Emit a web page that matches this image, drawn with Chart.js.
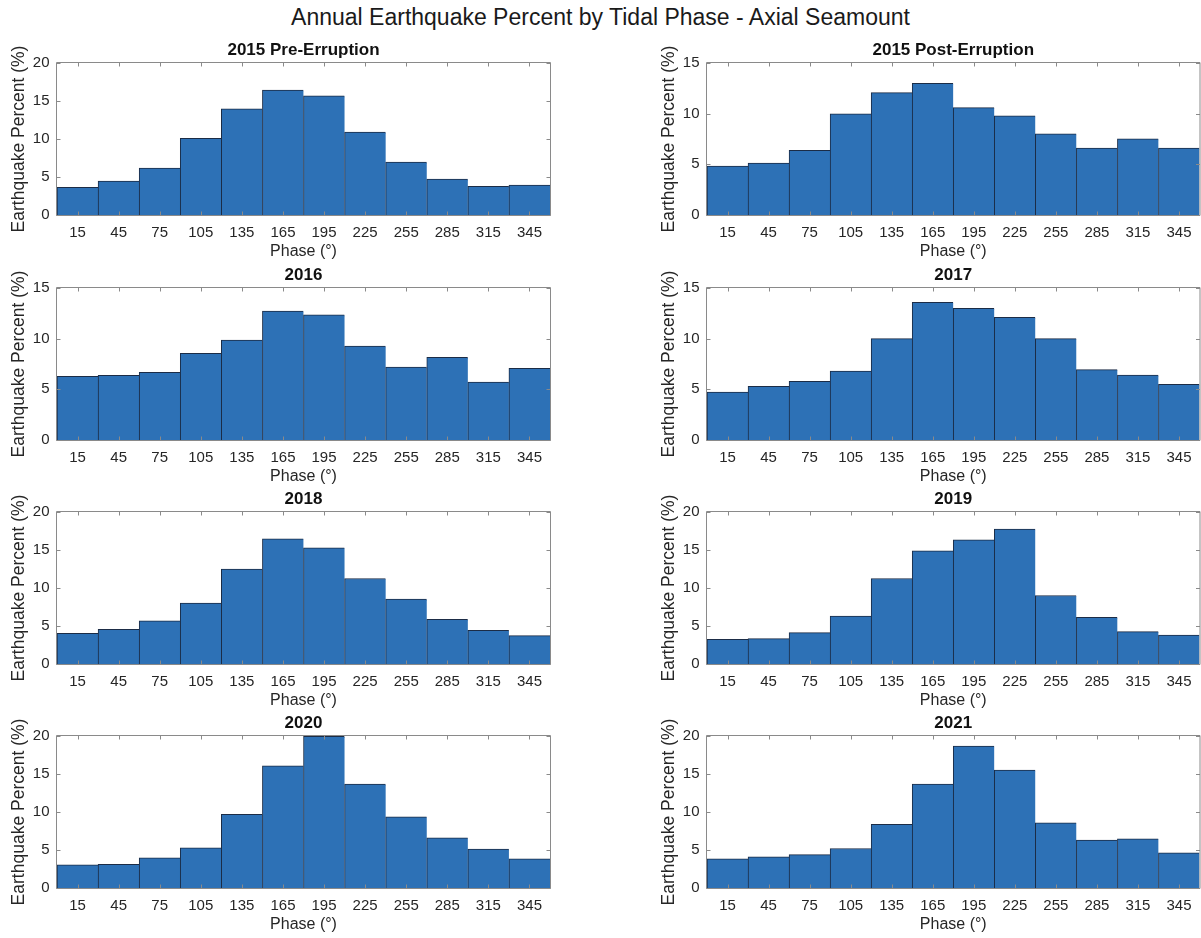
<!DOCTYPE html>
<html>
<head>
<meta charset="utf-8">
<script src="https://cdn.jsdelivr.net/npm/chart.js@4.4.0/dist/chart.umd.min.js"></script>
<style>
  html, body { margin: 0; padding: 0; background: #fff; }
  body { width: 1201px; height: 938px; position: relative; overflow: hidden;
         font-family: 'Liberation Sans', Arial, Helvetica, sans-serif; }
  #suptitle { position: absolute; left: 0; top: 4px; width: 1201px; text-align: center;
              font-size: 23px; line-height: 26px; color: #1a1a1a; }
  canvas { position: absolute; }
</style>
</head>
<body>
<div id="suptitle">Annual Earthquake Percent by Tidal Phase - Axial Seamount</div>
<script>
// Phase bin centres (degrees)
const phaseBins = ['15', '45', '75', '105', '135', '165', '195', '225', '255', '285', '315', '345'];

// Percent of earthquakes falling in each tidal-phase bin
const pct2015Pre  = [3.63, 4.46, 6.17, 10.1, 13.96, 16.45, 15.67, 10.9, 6.96, 4.73, 3.76, 3.94];
const pct2015Post = [4.82, 5.12, 6.37, 9.98, 12.08, 13.0, 10.6, 9.78, 8.01, 6.6, 7.52, 6.6];
const pct2016     = [6.28, 6.38, 6.68, 8.55, 9.87, 12.73, 12.34, 9.28, 7.2, 8.16, 5.72, 7.07];
const pct2017     = [4.74, 5.3, 5.79, 6.81, 10.0, 13.59, 12.99, 12.1, 10.0, 6.94, 6.41, 5.49];
const pct2018     = [4.04, 4.57, 5.67, 8.0, 12.48, 16.48, 15.3, 11.25, 8.53, 5.89, 4.44, 3.74];
const pct2019     = [3.25, 3.34, 4.13, 6.29, 11.25, 14.9, 16.35, 17.76, 9.01, 6.15, 4.26, 3.82];
const pct2020     = [3.04, 3.13, 3.96, 5.29, 9.69, 16.08, 19.95, 13.66, 9.38, 6.61, 5.11, 3.83];
const pct2021     = [3.83, 4.1, 4.4, 5.2, 8.37, 13.66, 18.68, 15.5, 8.59, 6.3, 6.48, 4.63];

// Panel titles and y-axis upper limits
const panelTitles = ['2015 Pre-Erruption', '2015 Post-Erruption', '2016', '2017', '2018', '2019', '2020', '2021'];
const panelSeries = [pct2015Pre, pct2015Post, pct2016, pct2017, pct2018, pct2019, pct2020, pct2021];
const panelYMax   = [20, 15, 15, 15, 20, 20, 20, 20];
const yTickStep   = 5;

const FONT = "'Liberation Sans', Arial, Helvetica, sans-serif";
const BAR_FILL = '#2d71b6';
const BAR_EDGE = '#1b2c46';
const AXIS_COLOR = '#8a8a8a';
const TEXT_COLOR = '#262626';

// Grid placement of the subplot axes (plot-area edges in page pixels)
const colLeft  = [0, 650];      // canvas left edge per column
const colWidth = [560, 551];
const colPadR  = [10, 1.5];
const rowTop   = [63, 288, 512, 736];  // plot-area top per row
const PLOT_H = 152;
const TITLE_H = 38;
const XAXIS_H = 48;
const YAXIS_W = 57;

// Box outline plus inward tick marks on all four sides, drawn over the bars
const axesBox = {
  id: 'axesBox',
  afterDatasetsDraw(chart) {
    const { ctx, chartArea: a, scales: { x, y } } = chart;
    const L = a.left - 0.5, R = a.right + 0.5, T = a.top - 0.5, B = a.bottom + 0.5;
    const tl = 4;
    ctx.save();
    ctx.strokeStyle = AXIS_COLOR;
    ctx.lineWidth = 1;
    ctx.beginPath();
    ctx.rect(L, T, R - L, B - T);
    x.ticks.forEach((t, i) => {
      const px = Math.round(x.getPixelForTick(i)) + 0.5;
      ctx.moveTo(px, B); ctx.lineTo(px, B - tl);
      ctx.moveTo(px, T); ctx.lineTo(px, T + tl);
    });
    y.ticks.forEach(t => {
      const py = Math.round(y.getPixelForValue(t.value)) + 0.5;
      ctx.moveTo(L, py); ctx.lineTo(L + tl, py);
      ctx.moveTo(R, py); ctx.lineTo(R - tl, py);
    });
    ctx.stroke();
    ctx.restore();
  }
};

panelSeries.forEach((series, idx) => {
  const col = idx % 2, row = Math.floor(idx / 2);
  const canvas = document.createElement('canvas');
  const h = TITLE_H + PLOT_H + XAXIS_H;
  canvas.width = colWidth[col];
  canvas.height = h;
  canvas.style.left = colLeft[col] + 'px';
  canvas.style.top = (rowTop[row] - TITLE_H) + 'px';
  canvas.style.width = colWidth[col] + 'px';
  canvas.style.height = h + 'px';
  document.body.appendChild(canvas);

  new Chart(canvas, {
    type: 'bar',
    data: {
      labels: phaseBins,
      datasets: [{
        data: series,
        backgroundColor: BAR_FILL,
        borderColor: BAR_EDGE,
        borderWidth: { left: 1, top: 1, right: 0, bottom: 0 },
        borderSkipped: false,
        barPercentage: 1,
        categoryPercentage: 1
      }]
    },
    options: {
      responsive: false,
      animation: false,
      devicePixelRatio: 1,
      layout: { padding: { left: 0, right: colPadR[col], top: 0, bottom: 0 } },
      plugins: {
        legend: { display: false },
        tooltip: { enabled: false },
        title: {
          display: true,
          fullSize: false,
          text: panelTitles[idx],
          color: '#111',
          font: { family: FONT, size: 17, weight: 'bold', lineHeight: 1.2 },
          padding: { top: 15.3, bottom: 2.3 }
        }
      },
      scales: {
        x: {
          type: 'category',
          offset: true,
          grid: { display: false, drawTicks: false },
          border: { display: false },
          ticks: { color: TEXT_COLOR, font: { family: FONT, size: 15 }, padding: 9,
                   maxRotation: 0, autoSkip: false },
          title: { display: true, text: 'Phase (°)', color: TEXT_COLOR,
                   font: { family: FONT, size: 16, lineHeight: 1.2 }, padding: { top: 0, bottom: 2 } },
          afterFit: s => { s.height = XAXIS_H; }
        },
        y: {
          min: 0,
          max: panelYMax[idx],
          grid: { display: false, drawTicks: false },
          border: { display: false },
          ticks: { stepSize: yTickStep, color: TEXT_COLOR, font: { family: FONT, size: 15 }, padding: 7.5 },
          title: { display: true, text: 'Earthquake Percent (%)', color: TEXT_COLOR,
                   font: { family: FONT, size: 17.5, lineHeight: 1.2 }, padding: { top: 8.5, bottom: 0 } },
          afterFit: s => { s.width = YAXIS_W; }
        }
      }
    },
    plugins: [axesBox]
  });
});
</script>
</body>
</html>
